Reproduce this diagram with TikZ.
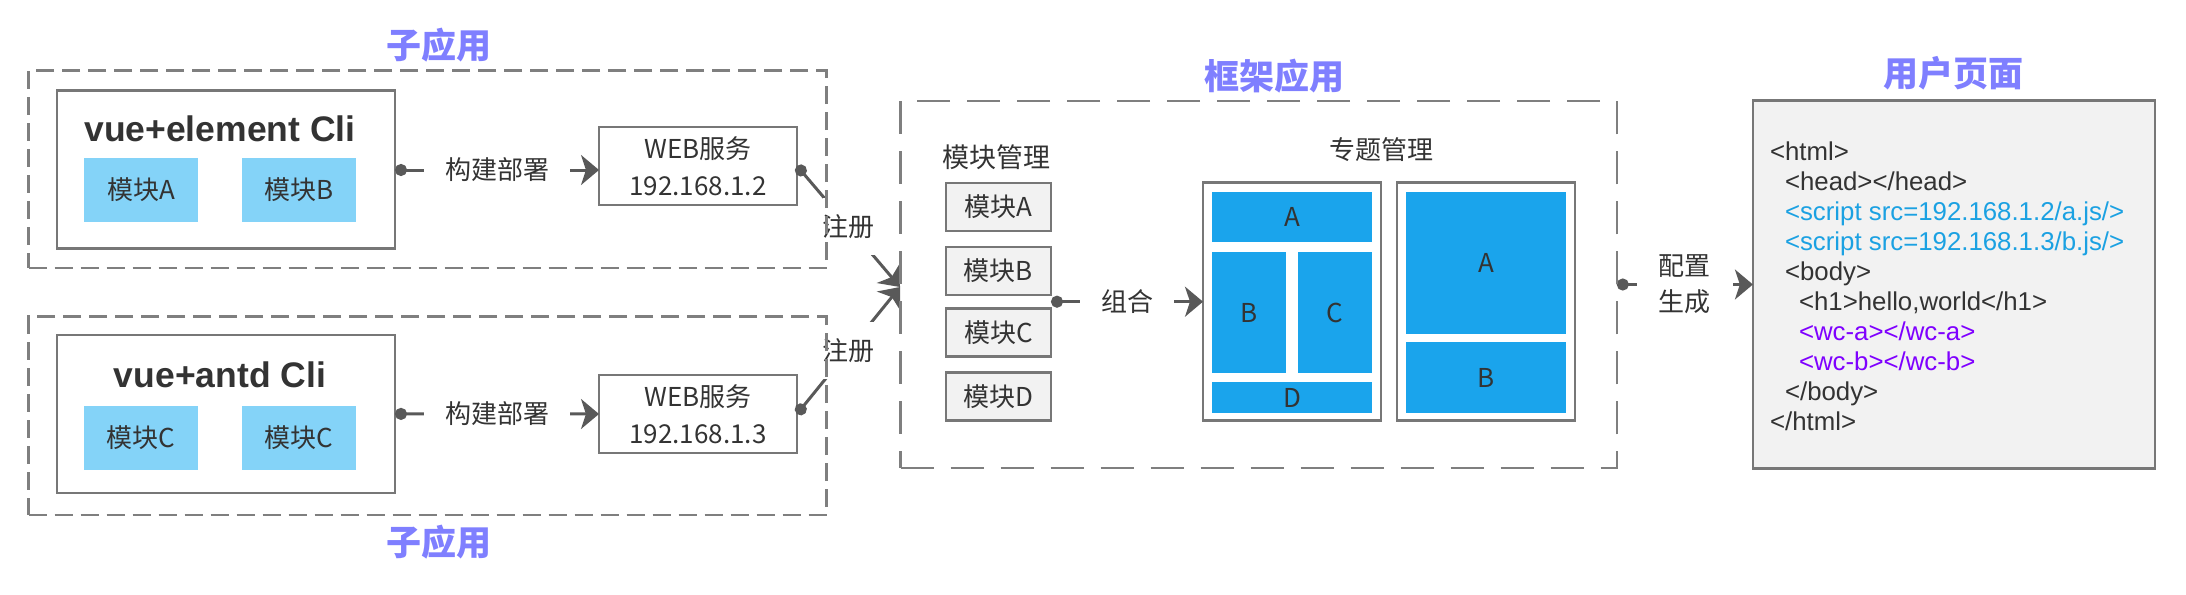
\documentclass[tikz,border=0pt]{standalone}
\usepackage{fontspec}
\setmainfont{Noto Sans CJK SC}
\newfontfamily\lib{Liberation Sans}
\usetikzlibrary{arrows.meta}
\definecolor{ttl}{HTML}{7F7FFF}
\definecolor{dgray}{HTML}{7F7F7F}
\definecolor{bgray}{HTML}{777777}
\definecolor{lblue}{HTML}{84D3F8}
\definecolor{tblue}{HTML}{1AA4EC}
\definecolor{gfill}{HTML}{F2F2F2}
\definecolor{txt}{HTML}{333333}
\definecolor{cline}{HTML}{595959}
\definecolor{cblue}{HTML}{1BA1E2}
\definecolor{cpurp}{HTML}{7F00FF}
\begin{document}
\begin{tikzpicture}[x=1pt,y=-1pt,
 every node/.style={inner sep=0pt, outer sep=0pt, text=txt},
 f26/.style={font=\fontsize{26}{30}\selectfont},
 ttlnode/.style={font=\fontsize{35}{40}\selectfont\bfseries, text=ttl},
 subbox/.style={draw=dgray, line width=2.7pt, dash pattern=on 18pt off 8pt},
 fwbox/.style={draw=dgray, line width=2.7pt, dash pattern=on 33pt off 17pt},
 clibox/.style={draw=bgray, line width=2.5pt, fill=white},
 clitxt/.style={anchor=base, font=\lib\bfseries\fontsize{35.5}{40}\selectfont},
 lmod/.style={fill=lblue, f26, minimum width=114pt, minimum height=64pt},
 webbox/.style={draw=bgray, line width=2.5pt, fill=white, align=center, font=\fontsize{26}{37}\selectfont, minimum width=198pt, minimum height=78pt},
 gmod/.style={draw=bgray, line width=2.5pt, fill=gfill, f26, minimum width=105pt, minimum height=48pt},
 tbox/.style={draw=bgray, line width=2.5pt, fill=white, minimum width=178pt, minimum height=238pt},
 tb/.style={fill=tblue, f26},
 conn/.style={draw=cline, line width=3pt, arrows={Circle[length=12pt,width=12pt]-Stealth[length=18pt,width=30pt,inset=5pt]}},
 lab/.style={fill=white, f26, inner xsep=21pt, inner ysep=4pt},
 regl/.style={fill=white, f26, inner xsep=0pt, inner ysep=16pt},
 code/.style={anchor=base west, font=\lib\fontsize{25.8}{30}\selectfont},
]
\useasboundingbox (0,0) rectangle (2186,594);

% titles
\node[ttlnode] (t1) at (439,45) {子应用};
\node[ttlnode] (t2) at (1274,76) {框架应用};
\node[ttlnode] (t3) at (1953,73) {用户页面};
\node[ttlnode] (t4) at (439,542) {子应用};

% sub application 1
\node[clibox, minimum width=338pt, minimum height=158pt] (cli1) at (226,169.7) {};
\node[clitxt] (v1) at (220,141.7) {vue+element Cli};
\node[lmod] (mA) at (141,190) {模块A};
\node[lmod] (mB) at (299,190) {模块B};
\node[webbox] (web1) at (698,165.9) {WEB服务\\192.168.1.2};

% sub application 2
\node[clibox, minimum width=338pt, minimum height=158pt] (cli2) at (226,413.9) {};
\node[clitxt] (v2) at (220,387.7) {vue+antd Cli};
\node[lmod] (mC1) at (141,438) {模块C};
\node[lmod] (mC2) at (299,438) {模块C};
\node[webbox] (web2) at (698,414) {WEB服务\\192.168.1.3};

% framework
\node[f26, font=\fontsize{27}{30}\selectfont] (mm) at (996,157) {模块管理};
\node[gmod] (gA) at (998.5,206.9) {模块A};
\node[gmod] (gB) at (998.5,270.9) {模块B};
\node[gmod] (gC) at (998.5,332.4) {模块C};
\node[gmod] (gD) at (998.5,396.7) {模块D};
\node[f26] (zt) at (1381,150) {专题管理};
\node[tbox] (top1) at (1292,301.7) {};
\node[tbox] (top2) at (1486,301.7) {};
\node[tb, minimum width=160pt, minimum height=49.7pt] (bA1) at (1292,216.9) {A};
\node[tb, minimum width=74pt, minimum height=121pt] (bB1) at (1249,312.5) {B};
\node[tb, minimum width=74pt, minimum height=121pt] (bC1) at (1335,312.5) {C};
\node[tb, minimum width=160pt, minimum height=31pt] (bD1) at (1292,397.5) {D};
\node[tb, minimum width=160pt, minimum height=142pt] (bA2) at (1486,263) {A};
\node[tb, minimum width=160pt, minimum height=71pt] (bB2) at (1486,377.5) {B};

% user page
\node[draw=bgray, line width=2.7pt, fill=gfill, minimum width=402pt, minimum height=367.6pt] (html) at (1953.9,284.5) {};
\node[code] (c1) at (1770,160) {<html>};
\node[code] (c2) at (1785,190) {<head></head>};
\node[code, text=cblue] (c3) at (1785,220) {<script src=192.168.1.2/a.js/>};
\node[code, text=cblue] (c4) at (1785,250) {<script src=192.168.1.3/b.js/>};
\node[code] (c5) at (1785,280) {<body>};
\node[code] (c6) at (1799,310) {<h1>hello,world</h1>};
\node[code, text=cpurp] (c7) at (1799,340) {<wc-a></wc-a>};
\node[code, text=cpurp] (c8) at (1799,370) {<wc-b></wc-b>};
\node[code] (c9) at (1785,400) {</body>};
\node[code] (c10) at (1770,430) {</html>};

% connectors
\coordinate (reg) at (900,287);
\draw[conn] (cli1.east |- 0,170) -- (web1.west |- 0,170) node[lab, pos=0.5] {构建部署};
\draw[conn] (cli2.east) -- (web2.west) node[lab, pos=0.5] {构建部署};
\draw[conn] (web1.east) -- (reg) node[regl, pos=0.5] {注册};
\draw[conn] (web2.east) -- (reg) node[regl, pos=0.5] {注册};
\draw[conn] (top1.west -| gB.east) -- (top1.west) node[lab, pos=0.5] {组合};
\draw[conn] (html.west -| 1616.8,0) -- (html.west) node[lab, pos=0.5, align=center, font=\fontsize{26}{36}\selectfont, inner xsep=22pt] {配置\\生成};

% dashed containers
\node[subbox, minimum width=798pt, minimum height=197.3pt] (sub1) at (427.7,169.4) {};
\node[subbox, minimum width=798pt, minimum height=198.3pt] (sub2) at (427.7,415.9) {};
\node[fwbox, minimum width=716.3pt, minimum height=367pt] (fw) at (1258.7,284.5) {};
\end{tikzpicture}
\end{document}
